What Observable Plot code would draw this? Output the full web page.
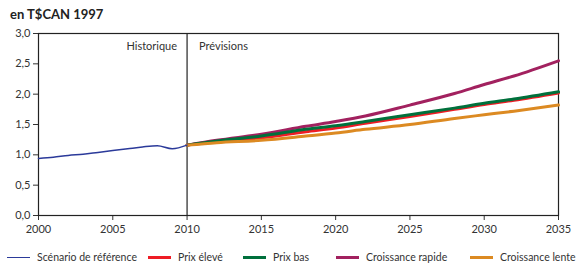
<!DOCTYPE html>
<html>
<head>
<meta charset="utf-8">
<script src="https://cdn.jsdelivr.net/npm/d3@7"></script>
<script src="https://cdn.jsdelivr.net/npm/@observablehq/plot@0.6"></script>
<style>
  body { margin: 0; background: #fff; font-family: Lato, "DejaVu Sans", sans-serif; }
  #wrap { position: relative; width: 580px; height: 275px; }
  #title { position: absolute; left: 10px; top: 6px; font-size: 13px; font-weight: bold; color: #222; }
  #chart { position: absolute; left: 0; top: 26px; }
  .leg { position: absolute; top: 250px; font-size: 10.5px; color: #333; line-height: 14px; white-space: nowrap; }
  .sw { display: inline-block; width: 23px; vertical-align: middle; margin-right: 7px; position: relative; top: -1px; }
</style>
</head>
<body>
<div id="wrap">
  <div id="title">en T$CAN 1997</div>
  <div id="chart"></div>
</div>
<script>
const histYears = [2000, 2001, 2002, 2003, 2004, 2005, 2006, 2007, 2008, 2009, 2010];
const reference = [0.94, 0.96, 0.99, 1.01, 1.04, 1.07, 1.10, 1.13, 1.15, 1.10, 1.16];

const projYears = [2010, 2012, 2015, 2018, 2020, 2022, 2025, 2028, 2030, 2032, 2035];
const prixEleve = [1.16, 1.22, 1.28, 1.38, 1.44, 1.52, 1.63, 1.75, 1.83, 1.90, 2.02];
const prixBas = [1.16, 1.23, 1.31, 1.42, 1.48, 1.55, 1.66, 1.77, 1.85, 1.92, 2.04];
const croissanceRapide = [1.16, 1.24, 1.34, 1.47, 1.55, 1.64, 1.82, 2.01, 2.16, 2.30, 2.55];
const croissanceLente = [1.16, 1.20, 1.24, 1.31, 1.36, 1.42, 1.50, 1.60, 1.66, 1.72, 1.82];

const seriesNames = ["Scénario de référence", "Prix élevé", "Prix bas", "Croissance rapide", "Croissance lente"];
const seriesColors = ["#2b3a9a", "#ee1c25", "#00703c", "#a2215f", "#dc8a22"];
const seriesWidths = [1.5, 3, 3, 3, 3];
const legendLeft = [7, 148, 243, 336, 470];

const xTicks = [2000, 2005, 2010, 2015, 2020, 2025, 2030, 2035];
const yTicks = [0, 0.5, 1, 1.5, 2, 2.5, 3];
const divider = [2010];
const periodLabels = [{year: 2010, label: "Historique", side: "end"}, {year: 2010, label: "Prévisions", side: "start"}];

const projSeries = [prixEleve, prixBas, croissanceRapide, croissanceLente];
const rows = [];
histYears.forEach((y, i) => rows.push({series: seriesNames[0], year: y, value: reference[i]}));
projSeries.forEach((arr, k) => projYears.forEach((y, i) => rows.push({series: seriesNames[k + 1], year: y, value: arr[i]})));

const drawOrder = [3, 1, 2, 4, 0];
const fmt = d => d.toFixed(1).replace(".", ",");

const lineMarks = drawOrder.map(k => Plot.line(rows.filter(r => r.series === seriesNames[k]), {
  x: "year", y: "value", stroke: seriesColors[k], strokeWidth: seriesWidths[k], curve: "monotone-x"
}));

const chart = Plot.plot({
  width: 580,
  height: 210,
  marginLeft: 38,
  marginRight: 22,
  marginTop: 7,
  marginBottom: 21,
  style: {fontFamily: "Lato, 'DejaVu Sans', sans-serif", fontSize: "11px", color: "#333", overflow: "visible"},
  x: {domain: [2000, 2035], ticks: xTicks, tickFormat: d => String(d), label: null, tickSize: 5, tickPadding: 5},
  y: {domain: [0, 3], ticks: yTicks, tickFormat: fmt, label: null, tickSize: 5, tickPadding: 3},
  marks: [
    Plot.frame({stroke: "#222", strokeWidth: 1.2}),
    Plot.ruleX(divider, {stroke: "#222", strokeWidth: 1.2}),
    ...lineMarks,
    Plot.text(periodLabels.filter(d => d.side === "end"), {x: "year", y: () => 3, text: "label", textAnchor: "end", dx: -10, dy: 13, fill: "#333", fontSize: 11}),
    Plot.text(periodLabels.filter(d => d.side === "start"), {x: "year", y: () => 3, text: "label", textAnchor: "start", dx: 12, dy: 13, fill: "#333", fontSize: 11})
  ]
});
document.getElementById("chart").appendChild(chart);

const wrap = document.getElementById("wrap");
seriesNames.forEach((name, k) => {
  const d = document.createElement("div");
  d.className = "leg";
  d.style.left = legendLeft[k] + "px";
  const sw = document.createElement("span");
  sw.className = "sw";
  sw.style.borderTop = (k === 0 ? 1.5 : 3) + "px solid " + seriesColors[k];
  d.appendChild(sw);
  d.appendChild(document.createTextNode(name));
  wrap.appendChild(d);
});
</script>
</body>
</html>
